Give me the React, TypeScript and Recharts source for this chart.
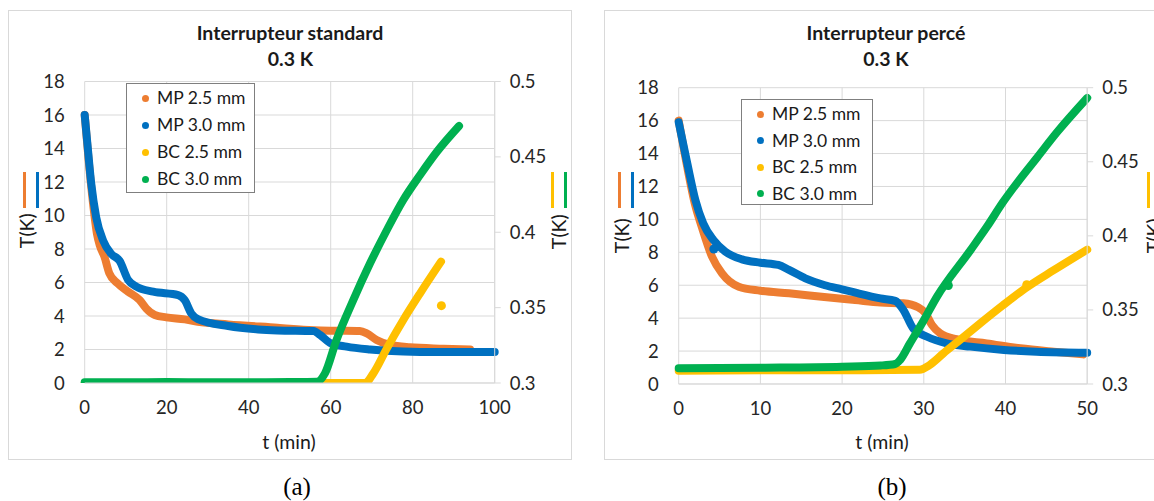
import React from "react";
import { ComposedChart, Line, Scatter, XAxis, YAxis, CartesianGrid } from "recharts";

// (a) interrupteur standard, t in min
const aMp25T = [0, 1, 2, 3, 3.7, 4.8, 6, 8, 10.6, 13.4, 15, 17.1, 19.9, 24.4, 27.6, 35, 47, 55.8, 61.5, 67.1, 68.8, 71.2, 74.5, 79.3, 87.5, 94];
const aMp25V = [16, 13.2, 10.8, 8.9, 8.2, 7.55, 6.55, 5.95, 5.45, 4.95, 4.45, 4.06, 3.92, 3.8, 3.66, 3.5, 3.3, 3.15, 3.12, 3.1, 2.96, 2.57, 2.27, 2.13, 2.05, 2.0];
const aMp30T = [0, 0.8, 1.6, 2.8, 4.5, 6.5, 8.5, 10.6, 12.6, 16.7, 22.8, 24.4, 26, 27.6, 35, 42.3, 47, 55.8, 57.4, 59.8, 63.9, 69.6, 77.7, 85.9, 100];
const aMp30V = [16, 13.9, 11.9, 9.9, 8.5, 7.7, 7.3, 6.15, 5.75, 5.45, 5.25, 4.95, 4.15, 3.82, 3.4, 3.2, 3.14, 3.1, 2.87, 2.4, 2.17, 2.0, 1.88, 1.85, 1.85];
const aBc25T = [0, 20, 40, 60, 68.4, 70.4, 73.7, 77.7, 81.8, 86.9];
const aBc25V = [0.3, 0.3, 0.3, 0.3, 0.3, 0.3064, 0.323, 0.3418, 0.3595, 0.3805];
const aBc30T = [0, 10, 20, 30, 40, 50, 56.6, 58.6, 61.4, 65.5, 69.6, 73.7, 77.7, 81.8, 85.9, 91.3];
const aBc30V = [0.3005, 0.3005, 0.3006, 0.3005, 0.3005, 0.3006, 0.3008, 0.3064, 0.3285, 0.355, 0.3794, 0.4015, 0.4214, 0.438, 0.4534, 0.4705];
const aStrayBc25 = [{ t: 87, v: 0.3513 }];

// (b) interrupteur percé
const bMp25T = [0, 1, 2, 2.85, 4.08, 5.3, 7.35, 10, 13.5, 17.5, 21.6, 24.7, 27.5, 29.3, 30.2, 31, 32, 34, 37.7, 41.8, 45.9, 49.5];
const bMp25V = [16.0, 13.3, 10.9, 9.5, 7.73, 6.72, 5.91, 5.67, 5.51, 5.3, 5.1, 4.95, 4.9, 4.66, 4.3, 3.58, 3.08, 2.72, 2.47, 2.17, 1.96, 1.8];
const bMp30T = [0, 1.05, 2.04, 3.0, 4.24, 5.7, 7.75, 10, 12.2, 13.5, 15.5, 17.9, 20, 22, 24.7, 26.5, 27.5, 28.7, 30.4, 32.8, 35.7, 39.8, 43.8, 50];
const bMp30V = [15.9, 13.4, 11.18, 9.76, 8.75, 8.04, 7.57, 7.37, 7.23, 6.93, 6.42, 6.0, 5.75, 5.5, 5.2, 5.05, 4.5, 3.38, 2.87, 2.47, 2.27, 2.07, 1.96, 1.9];
const bBc25T = [0, 10, 20, 29.5, 30.7, 32.4, 34.4, 36.9, 39.7, 42.4, 45.9, 50];
const bBc25V = [0.309, 0.3092, 0.3093, 0.3097, 0.3128, 0.3207, 0.3296, 0.3409, 0.3532, 0.3644, 0.3768, 0.3907];
const bBc30T = [0, 10, 20, 24.7, 26.5, 27.1, 28.3, 30, 31.6, 35.7, 37.7, 39.7, 41.8, 43.9, 46.3, 50];
const bBc30V = [0.3106, 0.311, 0.3117, 0.3125, 0.3135, 0.3162, 0.3274, 0.3431, 0.3588, 0.3902, 0.4059, 0.4228, 0.4385, 0.4531, 0.4699, 0.4931];
const bStrayMp30 = [{ t: 4.3, v: 8.2 }];
const bStrayBc25 = [{ t: 42.6, v: 0.367 }];
const bStrayBc30 = [{ t: 33, v: 0.3665 }];

const leftTicks = [0, 2, 4, 6, 8, 10, 12, 14, 16, 18];
const rightTicks = [0.3, 0.35, 0.4, 0.45, 0.5];
const aTimeTicks = [0, 20, 40, 60, 80, 100];
const bTimeTicks = [0, 10, 20, 30, 40, 50];
const seriesNames = ["MP 2.5 mm", "MP 3.0 mm", "BC 2.5 mm", "BC 3.0 mm"];

const ORANGE = "#ED7D31";
const BLUE = "#0070C0";
const YELLOW = "#FFC000";
const GREEN = "#00B050";
const colors = [ORANGE, BLUE, YELLOW, GREEN];
const GRID = "#d9d9d9";
const FONT = "Lato, Carlito, 'Liberation Sans', sans-serif";

const zip = (ts: number[], vs: number[]) => ts.map((t, i) => ({ t, v: vs[i] }));

const tickStyle = { fontFamily: FONT, fontSize: 18.5, fill: "#262626" };

function Panel(props: any) {
  const { left, tMax, tTicks, series, strays, margin, lw, rw } = props;
  return (
    <div style={{ position: "absolute", left, top: 10 }}>
      <ComposedChart width={564} height={450} margin={margin}>
        <CartesianGrid stroke={GRID} strokeWidth={1} />
        <XAxis
          dataKey="t"
          type="number"
          domain={[0, tMax]}
          ticks={tTicks}
          height={30}
          tick={tickStyle}
          tickLine={false}
          tickSize={0}
          tickMargin={18}
          axisLine={{ stroke: GRID }}
        />
        <YAxis
          dataKey="v"
          domain={[0, 18]}
          ticks={leftTicks}
          width={lw}
          tick={tickStyle}
          tickLine={false}
          tickSize={0}
          tickMargin={20}
          axisLine={false}
          allowDataOverflow
        />
        <YAxis
          yAxisId="right"
          orientation="right"
          dataKey="v"
          domain={[0.3, 0.5]}
          ticks={rightTicks}
          width={rw}
          tick={{ ...tickStyle, textAnchor: "start" }}
          tickLine={{ stroke: GRID }}
          tickSize={6}
          tickMargin={9}
          axisLine={{ stroke: GRID }}
          allowDataOverflow
        />
        {series.map((s: any, i: number) => (
          <Line
            key={i}
            data={s}
            dataKey="v"
            yAxisId={i < 2 ? 0 : "right"}
            type="monotone"
            stroke={colors[i]}
            strokeWidth={8}
            strokeLinecap="round"
            strokeLinejoin="round"
            dot={false}
            activeDot={false}
            isAnimationActive={false}
          />
        ))}
        {strays.map((s: any, i: number) => (
          <Scatter
            key={"s" + i}
            data={s.data}
            dataKey="v"
            yAxisId={s.axis}
            fill={s.color}
            shape="circle"
            isAnimationActive={false}
          />
        ))}
      </ComposedChart>
    </div>
  );
}

function Txt({ x, y, size, bold, rotate, children }: any) {
  return (
    <div
      style={{
        position: "absolute",
        left: x - 150,
        top: y - size * 0.6,
        width: 300,
        height: size * 1.2,
        lineHeight: `${size * 1.2}px`,
        textAlign: "center",
        fontFamily: FONT,
        fontSize: size,
        fontWeight: bold ? 700 : 400,
        color: "#1a1a1a",
        whiteSpace: "nowrap",
        transform: rotate ? "rotate(-90deg)" : undefined,
      }}
    >
      {children}
    </div>
  );
}

function Bar({ x, color }: any) {
  return <div style={{ position: "absolute", left: x - 1.5, top: 172, width: 3, height: 36, background: color }} />;
}

function LegendBox({ x, y, w, h, rowY, step }: any) {
  return (
    <div
      style={{
        position: "absolute",
        left: x,
        top: y,
        width: w,
        height: h,
        boxSizing: "border-box",
        border: "1px solid #7f7f7f",
        background: "#fff",
      }}
    >
      {seriesNames.map((n, i) => (
        <div key={n} style={{ position: "absolute", left: 0, top: rowY + i * step - 12, height: 24, width: w }}>
          <div
            style={{
              position: "absolute",
              left: 15,
              top: 8.5,
              width: 7,
              height: 7,
              borderRadius: "50%",
              background: colors[i],
            }}
          />
          <div
            style={{
              position: "absolute",
              left: 30,
              top: 0,
              lineHeight: "24px",
              fontFamily: FONT,
              fontSize: 17.5,
              color: "#1a1a1a",
              whiteSpace: "nowrap",
            }}
          >
            {n}
          </div>
        </div>
      ))}
    </div>
  );
}

export default function App() {
  const aSeries = [zip(aMp25T, aMp25V), zip(aMp30T, aMp30V), zip(aBc25T, aBc25V), zip(aBc30T, aBc30V)];
  const bSeries = [zip(bMp25T, bMp25V), zip(bMp30T, bMp30V), zip(bBc25T, bBc25V), zip(bBc30T, bBc30V)];
  return (
    <div style={{ position: "fixed", left: 0, top: 0, width: 1154, height: 501, overflow: "hidden", background: "#fff" }}>
      {/* frames */}
      <div style={{ position: "absolute", left: 8, top: 10, width: 564, height: 450, boxSizing: "border-box", border: "1px solid " + GRID }} />
      <div style={{ position: "absolute", left: 604, top: 10, width: 564, height: 450, boxSizing: "border-box", border: "1px solid " + GRID }} />

      <Panel
        left={8}
        tMax={100}
        tTicks={aTimeTicks}
        series={aSeries}
        strays={[{ data: aStrayBc25, axis: "right", color: YELLOW }]}
        margin={{ top: 71.5, right: 0, bottom: 47, left: 0 }}
        lw={76.7}
        rw={77.3}
      />
      <Panel
        left={604}
        tMax={50}
        tTicks={bTimeTicks}
        series={bSeries}
        strays={[
          { data: bStrayMp30, axis: 0, color: BLUE },
          { data: bStrayBc25, axis: "right", color: YELLOW },
          { data: bStrayBc30, axis: "right", color: GREEN },
        ]}
        margin={{ top: 77.7, right: 0, bottom: 46, left: 0 }}
        lw={74.7}
        rw={80.8}
      />

      {/* panel (a) texts */}
      <Txt x={290} y={33} size={19.5} bold>Interrupteur standard</Txt>
      <Txt x={290.5} y={59} size={19.5} bold>0.3 K</Txt>
      <Txt x={289} y={442} size={19.5}>t (min)</Txt>
      <Txt x={27} y={231} size={19.5} rotate>T(K)</Txt>
      <Bar x={24} color={ORANGE} />
      <Bar x={37} color={BLUE} />
      <Txt x={559} y={232} size={19.5} rotate>T(K)</Txt>
      <Bar x={552.6} color={YELLOW} />
      <Bar x={565.5} color={GREEN} />
      <LegendBox x={126} y={83} w={129} h={110} rowY={14.3} step={27} />

      {/* panel (b) texts */}
      <Txt x={886} y={33} size={19.5} bold>Interrupteur percé</Txt>
      <Txt x={886} y={59} size={19.5} bold>0.3 K</Txt>
      <Txt x={882} y={442} size={19.5}>t (min)</Txt>
      <Txt x={622} y={236} size={19.5} rotate>T(K)</Txt>
      <Bar x={619} color={ORANGE} />
      <Bar x={632.4} color={BLUE} />
      <Txt x={1154.4} y={236} size={19.5} rotate>T(K)</Txt>
      <Bar x={1148} color={YELLOW} />
      <Bar x={1161} color={GREEN} />
      <LegendBox x={741} y={99} w={132} h={106} rowY={14.3} step={26.5} />

      {/* captions */}
      <div style={{ position: "absolute", left: 247, top: 472, width: 100, textAlign: "center", fontFamily: "'Liberation Serif', serif", fontSize: 25, lineHeight: "30px" }}>(a)</div>
      <div style={{ position: "absolute", left: 842, top: 472, width: 100, textAlign: "center", fontFamily: "'Liberation Serif', serif", fontSize: 25, lineHeight: "30px" }}>(b)</div>
    </div>
  );
}
